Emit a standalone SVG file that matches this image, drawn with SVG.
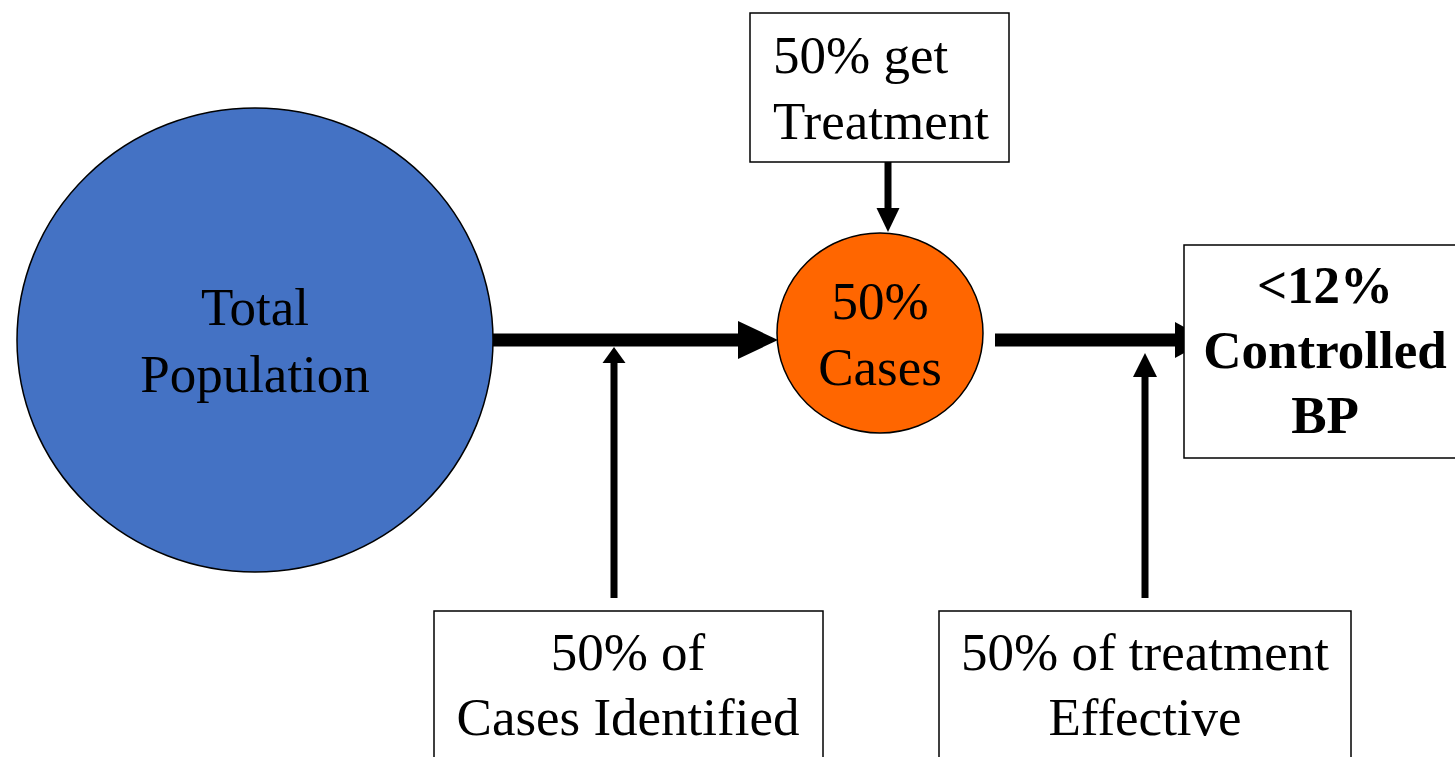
<svg xmlns="http://www.w3.org/2000/svg" width="1455" height="757" viewBox="0 0 1455 757">
  <style>
    .lbl { font-family: "Liberation Serif", "Times New Roman", serif; font-size: 53px; fill: #000; text-anchor: middle; }
    .bold { font-weight: bold; }
    .box { fill: #fff; stroke: #000; stroke-width: 1.5; }
    .shape { stroke: #000; stroke-width: 1.5; }
    .thick { stroke: #000; stroke-width: 13; fill: none; }
    .thin { stroke: #000; stroke-width: 7; fill: none; }
    .head { fill: #000; }
  </style>
  <rect width="1455" height="757" fill="#fff"/>

  <!-- connectors -->
  <g id="connectors">
    <!-- population to cases -->
    <line class="thick" x1="493" y1="340" x2="740" y2="340"/>
    <polygon class="head" points="738,321 778,340 738,359"/>
    <!-- cases to controlled -->
    <line class="thick" x1="995" y1="340" x2="1177" y2="340"/>
    <polygon class="head" points="1175,322 1208,340 1175,358"/>
    <!-- identification feed -->
    <line class="thin" x1="614" y1="598" x2="614" y2="360"/>
    <polygon class="head" points="602.5,363 614,347 625.5,363"/>
    <!-- effectiveness feed -->
    <line class="thin" x1="1145" y1="598" x2="1145" y2="374"/>
    <polygon class="head" points="1133,377 1145,353 1157,377"/>
    <!-- treatment feed -->
    <line class="thin" x1="888" y1="162" x2="888" y2="210"/>
    <polygon class="head" points="876.5,208 888,232 899.5,208"/>
  </g>

  <g id="total-population">
    <ellipse class="shape" cx="255" cy="340" rx="238" ry="232" fill="#4472C4"/>
    <text class="lbl" x="255" y="325">Total</text>
    <text class="lbl" x="255" y="392">Population</text>
  </g>

  <g id="cases">
    <ellipse class="shape" cx="880" cy="333" rx="103" ry="100" fill="#FF6600"/>
    <text class="lbl" x="880" y="319">50%</text>
    <text class="lbl" x="880" y="385">Cases</text>
  </g>

  <g id="get-treatment">
    <rect class="box" x="750" y="13" width="259" height="149"/>
    <text class="lbl" x="773" y="73" text-anchor="start" style="text-anchor:start">50% get</text>
    <text class="lbl" x="773" y="139" style="text-anchor:start">Treatment</text>
  </g>

  <g id="controlled-bp">
    <rect class="box" x="1184" y="245" width="290" height="213"/>
    <text class="lbl bold" x="1325" y="303">&lt;12%</text>
    <text class="lbl bold" x="1325" y="368">Controlled</text>
    <text class="lbl bold" x="1325" y="433">BP</text>
  </g>

  <g id="cases-identified">
    <rect class="box" x="434" y="611" width="389" height="170"/>
    <text class="lbl" x="628" y="670">50% of</text>
    <text class="lbl" x="628" y="735">Cases Identified</text>
  </g>

  <g id="treatment-effective">
    <rect class="box" x="939" y="611" width="412" height="170"/>
    <text class="lbl" x="1145" y="670">50% of treatment</text>
    <text class="lbl" x="1145" y="735">Effective</text>
  </g>
</svg>
